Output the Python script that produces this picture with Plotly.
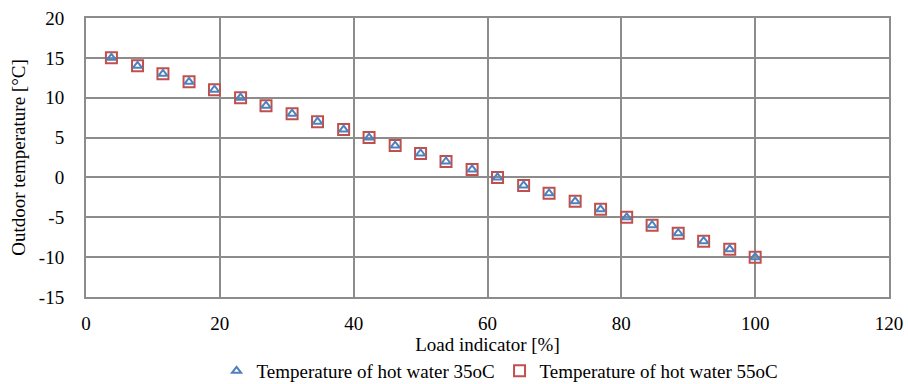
import plotly.graph_objects as go

load_35 = [3.8, 7.7, 11.5, 15.4, 19.2, 23.1, 26.9, 30.8, 34.6, 38.5, 42.3, 46.2, 50.0,
           53.8, 57.7, 61.5, 65.4, 69.2, 73.1, 76.9, 80.8, 84.6, 88.5, 92.3, 96.2, 100.0]
temp_35 = [15, 14, 13, 12, 11, 10, 9, 8, 7, 6, 5, 4, 3, 2, 1, 0, -1, -2, -3, -4, -5, -6, -7, -8, -9, -10]
load_55 = [3.8, 7.7, 11.5, 15.4, 19.2, 23.1, 26.9, 30.8, 34.6, 38.5, 42.3, 46.2, 50.0,
           53.8, 57.7, 61.5, 65.4, 69.2, 73.1, 76.9, 80.8, 84.6, 88.5, 92.3, 96.2, 100.0]
temp_55 = [15, 14, 13, 12, 11, 10, 9, 8, 7, 6, 5, 4, 3, 2, 1, 0, -1, -2, -3, -4, -5, -6, -7, -8, -9, -10]

x_ticks = [0, 20, 40, 60, 80, 100, 120]
y_ticks = [-15, -10, -5, 0, 5, 10, 15, 20]
y_tick_labels = ["-15", "-10", "-5", "0", "5", "10", "15", "20"]

font = "Liberation Serif, Times New Roman, serif"
grid = "#8c8c8c"
tick_font = dict(family=font, size=19, color="black")

fig = go.Figure()
fig.add_trace(go.Scatter(
    x=load_55, y=temp_55, mode="markers", name="Temperature of hot water 55oC",
    marker=dict(symbol="square-open", size=11, color="#C0504D", line=dict(width=2, color="#C0504D")),
))
fig.add_trace(go.Scatter(
    x=load_35, y=temp_35, mode="markers", name="Temperature of hot water 35oC",
    marker=dict(symbol="triangle-up-open", size=8, color="#4F81BD", line=dict(width=2, color="#4F81BD")),
))

fig.update_layout(
    width=908, height=384,
    margin=dict(l=86, r=19, t=18, b=87, autoexpand=False),
    paper_bgcolor="white", plot_bgcolor="white",
    font=dict(family=font, size=19, color="black"),
    showlegend=True,
    legend=dict(orientation="h", x=0.515, xanchor="center", y=-0.265, yanchor="middle",
                font=dict(family=font, size=19), traceorder="reversed",
                itemwidth=30, entrywidthmode="pixels", entrywidth=238),
    xaxis=dict(range=[0, 120], tickvals=x_ticks, automargin=False, tickfont=tick_font,
               showgrid=True, gridcolor=grid, gridwidth=2, zeroline=False,
               showline=True, linecolor=grid, linewidth=2, mirror=True,
               ticks="", ticklen=0, ticklabelstandoff=8,
               title=dict(text="Load indicator [%]", font=dict(family=font, size=19), standoff=4)),
    yaxis=dict(range=[-15, 20], tickvals=y_ticks, ticktext=y_tick_labels, automargin=False,
               tickfont=tick_font,
               showgrid=True, gridcolor=grid, gridwidth=2, zeroline=False,
               showline=True, linecolor=grid, linewidth=2, mirror=True,
               ticks="", ticklen=0, ticklabelstandoff=16,
               title=dict(text="Outdoor temperature [°C]", font=dict(family=font, size=19), standoff=8)),
)

fig.write_html("out.html", config={"displayModeBar": False},
               post_script="document.body.style.margin='0px';")
